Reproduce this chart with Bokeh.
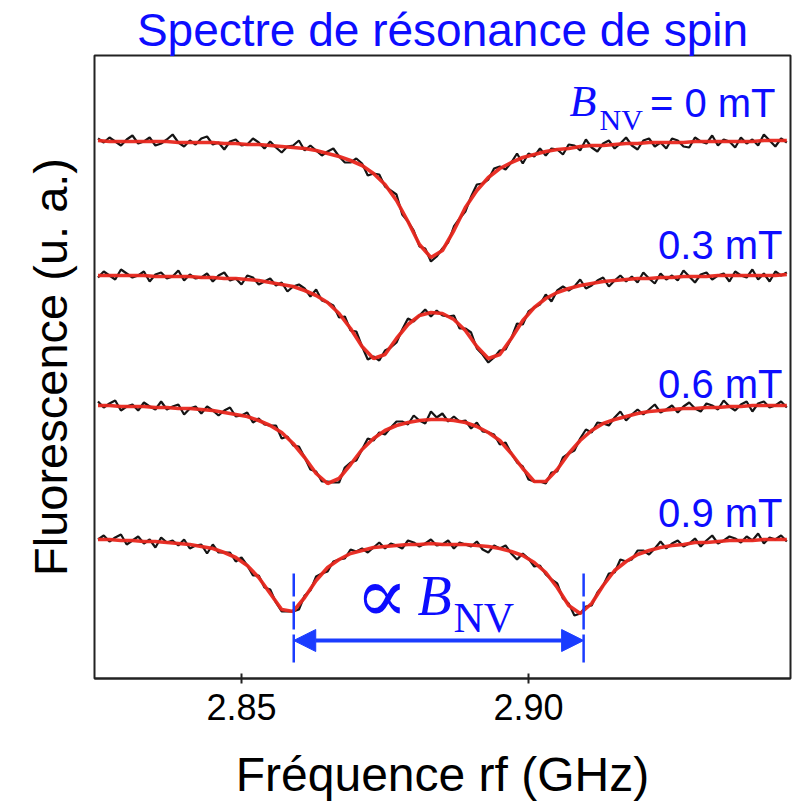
import numpy as np
from bokeh.plotting import figure
from bokeh.models import Label, Arrow, NormalHead, FixedTicker, Range1d
from bokeh.embed import file_html
from bokeh.resources import INLINE

# ---------------- data ----------------
# swept rf frequency (GHz): raw data every 1 MHz, fit evaluated every 2 MHz
freq_raw = np.round(np.linspace(2.825, 2.945, 121), 4)
freq_fit = np.round(np.linspace(2.825, 2.945, 61), 4)

# fluorescence (arbitrary units, traces stacked with offsets)
raw_0mT = [540, 536, 541, 537, 533, 539, 543, 535, 537, 541,
           533, 535, 539, 544, 536, 532, 538, 534, 540, 542,
           534, 536, 529, 537, 539, 533, 534, 540, 536, 530,
           537, 531, 526, 532, 533, 538, 528, 533, 528, 523,
           527, 530, 522, 516, 516, 520, 515, 503, 505, 504,
           492, 488, 484, 464, 457, 448, 432, 430, 417, 422,
           430, 436, 452, 460, 467, 482, 494, 495, 499, 510,
           512, 509, 516, 525, 515, 525, 522, 530, 523, 530,
           529, 524, 534, 533, 528, 539, 531, 527, 535, 538,
           530, 535, 541, 533, 529, 538, 540, 532, 536, 530,
           540, 538, 532, 531, 541, 537, 535, 543, 533, 539,
           537, 531, 541, 535, 539, 533, 544, 538, 532, 540, 536]
fit_0mT = [538, 537, 537, 537, 537, 537, 537, 536, 536, 536,
           536, 535, 535, 534, 534, 533, 532, 531, 530, 528,
           525, 522, 518, 513, 505, 494, 478, 457, 434, 421,
           428, 448, 471, 488, 501, 510, 516, 521, 524, 527,
           529, 530, 532, 533, 533, 534, 535, 535, 536, 536,
           536, 536, 537, 537, 537, 537, 537, 537, 538, 538, 538]

raw_03mT = [401, 407, 403, 399, 409, 405, 401, 403, 407, 397,
            404, 406, 400, 402, 408, 398, 404, 400, 401, 405,
            397, 403, 406, 398, 400, 394, 403, 401, 394, 397,
            400, 393, 396, 387, 392, 394, 390, 382, 389, 378,
            376, 373, 361, 362, 348, 347, 332, 319, 322, 318,
            328, 331, 336, 349, 360, 357, 363, 369, 362, 368,
            363, 362, 363, 350, 350, 346, 330, 324, 316, 321,
            328, 329, 340, 355, 354, 367, 371, 374, 384, 377,
            388, 392, 388, 392, 399, 390, 393, 398, 401, 392,
            398, 403, 397, 402, 396, 406, 400, 395, 405, 399,
            403, 398, 408, 402, 396, 404, 406, 399, 403, 405,
            397, 407, 403, 401, 409, 399, 405, 397, 407, 403, 406]
fit_03mT = [403, 403, 403, 403, 403, 402, 402, 402, 402, 401,
            401, 400, 400, 399, 398, 396, 394, 392, 388, 383,
            376, 365, 350, 332, 320, 324, 340, 354, 363, 366,
            365, 359, 348, 332, 320, 324, 340, 358, 371, 380,
            386, 390, 393, 395, 397, 398, 399, 400, 400, 401,
            401, 402, 402, 402, 403, 403, 403, 403, 403, 403, 404]

raw_06mT = [277, 271, 275, 278, 268, 272, 274, 268, 276, 272,
            269, 277, 269, 272, 274, 264, 270, 272, 265, 272,
            268, 263, 268, 271, 262, 263, 266, 256, 260, 254,
            253, 253, 240, 242, 233, 232, 221, 209, 207, 197,
            197, 196, 196, 211, 216, 218, 229, 240, 238, 246,
            244, 251, 257, 257, 254, 263, 258, 255, 267, 261,
            265, 257, 262, 257, 258, 250, 256, 247, 246, 244,
            234, 236, 225, 216, 212, 199, 197, 197, 195, 206,
            207, 221, 225, 228, 240, 249, 246, 256, 255, 253,
            261, 267, 258, 264, 269, 264, 269, 274, 266, 269,
            273, 266, 272, 276, 270, 267, 275, 273, 269, 278,
            272, 268, 274, 277, 267, 275, 277, 271, 273, 277, 271]
fit_06mT = [273, 273, 272, 272, 272, 271, 271, 270, 270, 269,
            268, 266, 264, 262, 258, 253, 246, 235, 221, 205,
            195, 200, 214, 229, 240, 248, 253, 256, 258, 259,
            259, 258, 256, 252, 246, 238, 225, 210, 197, 197,
            209, 225, 238, 248, 255, 259, 262, 265, 267, 268,
            269, 270, 270, 271, 271, 272, 272, 273, 273, 273, 273]

raw_09mT = [139, 143, 137, 141, 144, 134, 138, 142, 135, 139,
            131, 141, 136, 138, 133, 139, 130, 133, 134, 125,
            134, 126, 126, 126, 117, 121, 113, 103, 103, 91,
            89, 76, 67, 67, 67, 69, 83, 88, 102, 105,
            107, 117, 119, 120, 129, 127, 130, 126, 131, 136,
            130, 135, 133, 130, 138, 136, 132, 135, 139, 133,
            134, 138, 130, 136, 134, 132, 137, 129, 126, 133,
            130, 133, 125, 119, 125, 120, 112, 113, 104, 99,
            95, 80, 75, 63, 65, 72, 73, 86, 93, 105,
            106, 119, 117, 119, 128, 128, 124, 130, 137, 130,
            135, 138, 132, 135, 140, 132, 138, 143, 135, 138,
            142, 140, 136, 142, 138, 145, 135, 141, 139, 143, 137]
fit_09mT = [139, 139, 138, 138, 137, 137, 136, 135, 134, 132,
            130, 126, 121, 113, 101, 85, 69, 67, 81, 98,
            111, 119, 125, 128, 131, 132, 133, 134, 134, 135,
            134, 134, 134, 133, 132, 130, 127, 123, 116, 106,
            91, 73, 65, 75, 93, 108, 117, 124, 128, 131,
            133, 134, 136, 136, 137, 138, 138, 138, 139, 139, 139]

field_labels = ["0.3 mT", "0.6 mT", "0.9 mT"]
split_edges = [2.8591, 2.9096]      # outer dips of the 0.9 mT spectrum
x_ticks = [2.85, 2.90]
x_tick_labels = ["2.85", "2.90"]

# ---------------- styling ----------------
SANS = "Liberation Sans"
SERIF = "Liberation Serif"
BLUE = "#0d0dff"
ARROW_BLUE = "#1a3cff"
RED = "#e8271d"

p = figure(width=793, height=808, output_backend="svg", toolbar_location=None,
           x_range=Range1d(2.82439, 2.94564), y_range=Range1d(0, 623),
           min_border_left=94, min_border_right=3, min_border_top=55,
           min_border_bottom=130)
p.background_fill_color = "white"
p.border_fill_color = "white"
p.grid.visible = False
p.outline_line_color = "#222222"
p.outline_line_width = 2

p.title.text = "Spectre de résonance de spin"
p.title.align = "center"
p.title.text_font = SANS
p.title.text_font_size = "46px"
p.title.text_font_style = "normal"
p.title.text_color = BLUE
p.title.standoff = 0
p.title.offset = 0
p.title.text_line_height = 1.0

xa = p.xaxis[0]
xa.ticker = FixedTicker(ticks=x_ticks)
xa.major_label_overrides = dict(zip(x_ticks, x_tick_labels))
xa.minor_tick_line_color = None
xa.major_tick_in = 5
xa.major_tick_out = 5
xa.major_tick_line_width = 2
xa.major_tick_line_color = "#222222"
xa.axis_line_width = 2
xa.axis_line_color = "#222222"
xa.major_label_text_font = SANS
xa.major_label_text_font_size = "36px"
xa.major_label_text_color = "black"
xa.major_label_standoff = 10
xa.axis_label = "Fréquence rf (GHz)"
xa.axis_label_text_font = SANS
xa.axis_label_text_font_size = "48px"
xa.axis_label_text_font_style = "normal"
xa.axis_label_text_color = "black"
xa.axis_label_text_line_height = 1.0
xa.axis_label_standoff = 25

ya = p.yaxis[0]
ya.ticker = FixedTicker(ticks=[])
ya.major_tick_line_color = None
ya.minor_tick_line_color = None
ya.axis_line_color = None
ya.major_label_text_font_size = "0px"
ya.axis_label = "Fluorescence (u. a.)"
ya.axis_label_text_font = SANS
ya.axis_label_text_font_size = "47px"
ya.axis_label_text_font_style = "normal"
ya.axis_label_text_color = "black"
ya.axis_label_standoff = 18

# ---------------- spectra ----------------
raw_series = [raw_0mT, raw_03mT, raw_06mT, raw_09mT]
fit_series = [fit_0mT, fit_03mT, fit_06mT, fit_09mT]
for raw, fit in zip(raw_series, fit_series):
    p.line(freq_raw, raw, line_color="#141414", line_width=2.2)
    p.line(freq_fit, fit, line_color=RED, line_width=3.6, line_alpha=0.95)

# splitting markers and arrow
p.segment(x0=split_edges, y0=[16, 16], x1=split_edges, y1=[105, 105],
          line_color=ARROW_BLUE, line_width=2.5, line_dash="28 5")
p.add_layout(Arrow(start=NormalHead(size=22, fill_color=ARROW_BLUE, line_color=ARROW_BLUE),
                   end=NormalHead(size=22, fill_color=ARROW_BLUE, line_color=ARROW_BLUE),
                   x_start=split_edges[0], y_start=38, x_end=split_edges[1], y_end=38,
                   line_color=ARROW_BLUE, line_width=4))

# ---------------- texts ----------------
def lab(x, y, text, size, font=SANS, style="normal", align="left", color=BLUE):
    p.add_layout(Label(x=x, y=y, text=text, text_font=font,
                       text_font_size=size, text_font_style=style,
                       text_align=align, text_baseline="alphabetic",
                       text_color=color))

# B_NV = 0 mT
lab(2.90714, 577, "B", "44px", font=SERIF, style="italic")
lab(2.91237, 559, "NV", "30px", font=SERIF)
lab(2.94303, 576, "= 0 mT", "40px", align="right")

for txt, h in zip(field_labels, [434, 295, 166]):
    lab(2.94425, h, txt, "40px", align="right")

# proportional-to annotation
lab(2.86986, 84, "\u221d", "78px", font="DejaVu Serif")
lab(2.88066, 83, "B", "56px", font=SERIF, style="italic")
lab(2.88693, 61, "NV", "42px", font=SERIF)

open("out.html", "w").write(file_html(p, INLINE))
